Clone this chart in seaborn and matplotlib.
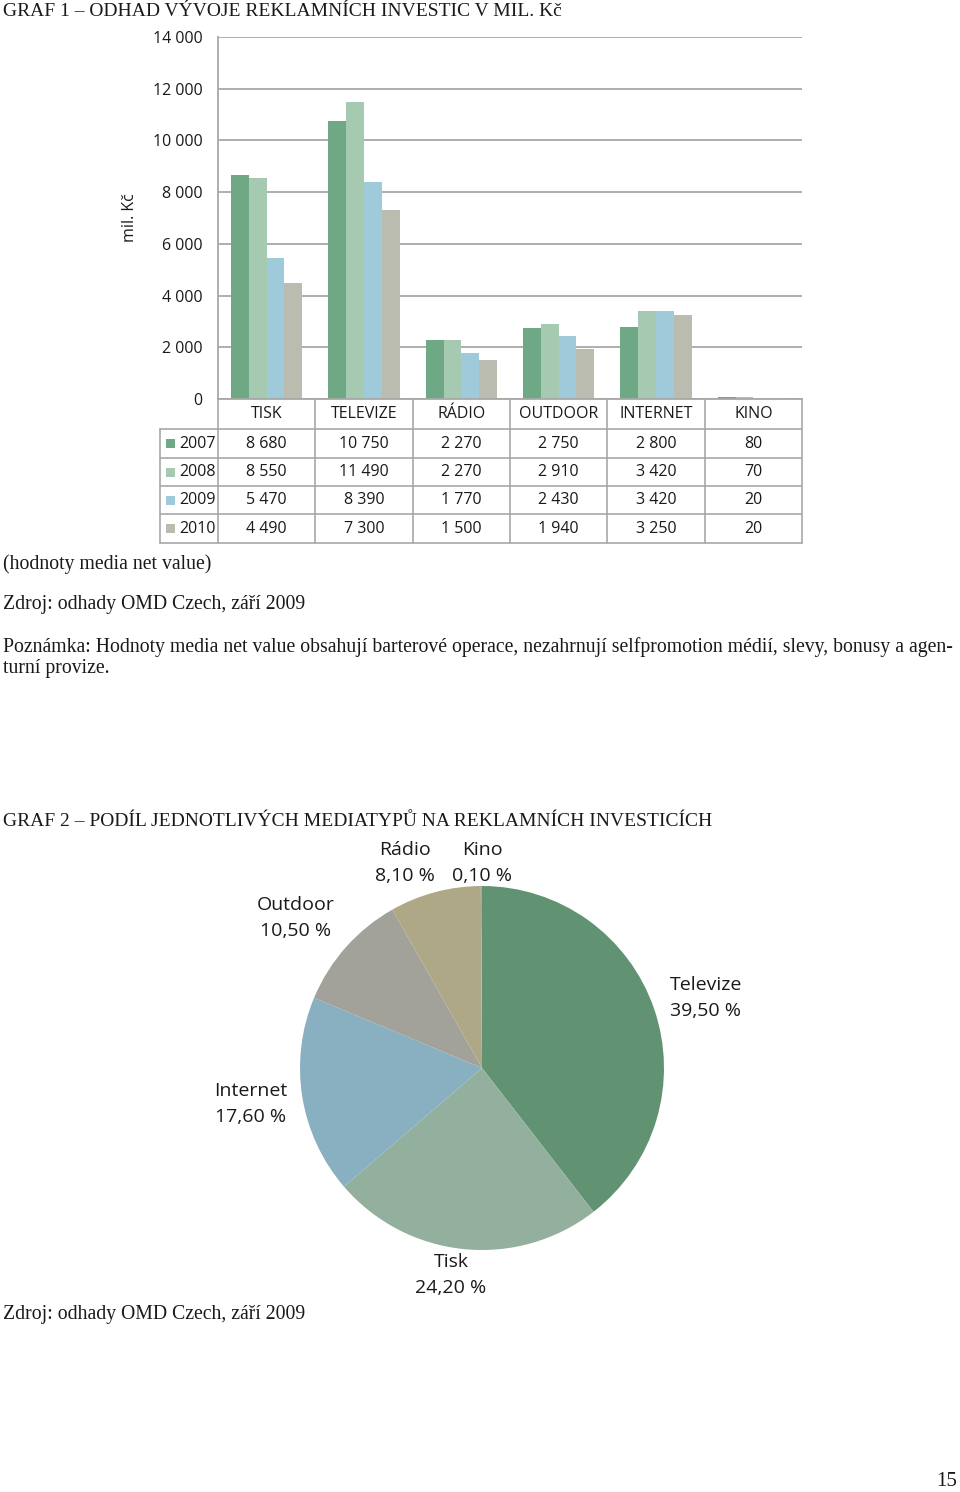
import numpy as np
import pandas as pd
import matplotlib
matplotlib.use("Agg")
import matplotlib.pyplot as plt
import seaborn as sns
from matplotlib.lines import Line2D
from matplotlib.patches import Rectangle

# ---------------- data ----------------
categories = ["TISK", "TELEVIZE", "RÁDIO", "OUTDOOR", "INTERNET", "KINO"]
years = ["2007", "2008", "2009", "2010"]
v2007 = [8680, 10750, 2270, 2750, 2800, 80]
v2008 = [8550, 11490, 2270, 2910, 3420, 70]
v2009 = [5470, 8390, 1770, 2430, 3420, 20]
v2010 = [4490, 7300, 1500, 1940, 3250, 20]
yticks = [0, 2000, 4000, 6000, 8000, 10000, 12000, 14000]
ytick_labels = ["0", "2 000", "4 000", "6 000", "8 000", "10 000", "12 000", "14 000"]

pie_names = ["Televize", "Tisk", "Internet", "Outdoor", "Rádio", "Kino"]
pie_values = [39.5, 24.2, 17.6, 10.5, 8.1, 0.1]
pie_value_labels = ["39,50 %", "24,20 %", "17,60 %", "10,50 %", "8,10 %", "0,10 %"]

bar_colors = ["#6fa884", "#a6c9b1", "#9ecad9", "#b9bcae"]
pie_colors = ["#619373", "#93b09f", "#88b0c0", "#a2a29b", "#aea887", "#9fae8a"]

# ---------------- setup ----------------
sns.set_theme(style="white")
SANS = ["Open Sans", "DejaVu Sans"]
SERIF = ["Liberation Serif", "DejaVu Serif"]
plt.rcParams["font.family"] = SANS

W, H = 960, 1492
fig = plt.figure(figsize=(W / 100, H / 100), dpi=100)
fig.patch.set_facecolor("white")


def fx(x):
    return x / W


def fy(y):
    return 1 - y / H


GRID = "#a8a8a8"
TXT = "#1a1a1a"

# ---------------- bar chart ----------------
ax = fig.add_axes([fx(218), fy(399), (802 - 218) / W, (399 - 37) / H])
rows = []
for yr, vals in zip(years, [v2007, v2008, v2009, v2010]):
    for c, v in zip(categories, vals):
        rows.append({"cat": c, "year": yr, "value": v})
df = pd.DataFrame(rows)
sns.barplot(data=df, x="cat", y="value", hue="year", order=categories,
            hue_order=years, palette=bar_colors, width=0.73, saturation=1,
            ax=ax, legend=False, errorbar=None)
ax.set_xlim(-0.5, 5.5)
ax.set_ylim(0, 14000)
ax.set_yticks(yticks)
ax.set_yticklabels(ytick_labels, fontsize=11.5, color=TXT)
ax.tick_params(axis="y", length=0, pad=11)
ax.set_xticks([])
ax.set_xlabel("")
ax.set_ylabel("")
ax.yaxis.grid(True, color=GRID, lw=1.3)
ax.set_axisbelow(True)
for s in ["top", "right"]:
    ax.spines[s].set_visible(False)
for s in ["left", "bottom"]:
    ax.spines[s].set_color(GRID)
    ax.spines[s].set_linewidth(1.3)
for p in ax.patches:
    p.set_linewidth(0)

fig.text(fx(130), fy(218), "mil. Kč", rotation=90, ha="center", va="center",
         fontsize=11.5, color=TXT)

# ---------------- data table ----------------
col_edges = np.linspace(218, 802, 7)
row_edges = [399, 429, 458, 486, 514, 543]


def hline(x1, x2, y):
    fig.add_artist(Line2D([fx(x1), fx(x2)], [fy(y), fy(y)], color=GRID, lw=1.2,
                          transform=fig.transFigure))


def vline(x, y1, y2):
    fig.add_artist(Line2D([fx(x), fx(x)], [fy(y1), fy(y2)], color=GRID, lw=1.2,
                          transform=fig.transFigure))


for y in row_edges[1:]:
    hline(160, 802, y)
for x in col_edges:
    vline(x, 399, 543)
vline(160, 429, 543)

for j, c in enumerate(categories):
    xc = (col_edges[j] + col_edges[j + 1]) / 2
    fig.text(fx(xc), fy(414), c, ha="center", va="center", fontsize=11.5, color=TXT)

for i, (yr, vals) in enumerate(zip(years, [v2007, v2008, v2009, v2010])):
    yc = (row_edges[i + 1] + row_edges[i + 2]) / 2
    fig.add_artist(Rectangle((fx(166), fy(yc + 4.5)), 9 / W, 9 / H,
                             transform=fig.transFigure, color=bar_colors[i], lw=0))
    fig.text(fx(179), fy(yc), yr, ha="left", va="center", fontsize=11.5, color=TXT)
    for j, v in enumerate(vals):
        xc = (col_edges[j] + col_edges[j + 1]) / 2
        fig.text(fx(xc), fy(yc), f"{v:,}".replace(",", " "), ha="center",
                 va="center", fontsize=11.5, color=TXT)

# ---------------- texts ----------------
fig.text(fx(3), fy(11), "GRAF 1 – ODHAD VÝVOJE REKLAMNÍCH INVESTIC V MIL. Kč",
         ha="left", va="center", fontsize=14, family=SERIF, color=TXT)
fig.text(fx(3), fy(564), "(hodnoty media net value)", ha="left", va="center",
         fontsize=14.2, family=SERIF, color=TXT)
fig.text(fx(3), fy(605), "Zdroj: odhady OMD Czech, září 2009", ha="left",
         va="center", fontsize=14.2, family=SERIF, color=TXT)
fig.text(fx(3), fy(647),
         "Poznámka: Hodnoty media net value obsahují barterové operace, nezahrnují "
         "selfpromotion médií, slevy, bonusy a agen-", ha="left", va="center",
         fontsize=14.2, family=SERIF, color=TXT)
fig.text(fx(3), fy(669), "turní provize.", ha="left", va="center",
         fontsize=14.2, family=SERIF, color=TXT)
fig.text(fx(3), fy(821),
         "GRAF 2 – PODÍL JEDNOTLIVÝCH MEDIATYPŮ NA REKLAMNÍCH INVESTICÍCH",
         ha="left", va="center", fontsize=14, family=SERIF, color=TXT)
fig.text(fx(3), fy(1314), "Zdroj: odhady OMD Czech, září 2009", ha="left",
         va="center", fontsize=14.2, family=SERIF, color=TXT)
fig.text(fx(947), fy(1481), "15", ha="center", va="center", fontsize=15,
         family=SERIF, color=TXT)

# ---------------- pie chart ----------------
cx, cy, r = 482, 1068, 182
pax = fig.add_axes([fx(cx - r), fy(cy + r), 2 * r / W, 2 * r / H])
pax.pie(pie_values, colors=pie_colors, startangle=90, counterclock=False,
        radius=1, wedgeprops={"linewidth": 0})
pax.set_xlim(-1, 1)
pax.set_ylim(-1, 1)
pax.set_aspect("equal")
pax.axis("off")

label_pos = {
    "Televize": (706, 998),
    "Tisk": (451, 1275),
    "Internet": (251, 1104),
    "Outdoor": (296, 918),
    "Rádio": (405, 863),
    "Kino": (482, 863),
}
for name, val in zip(pie_names, pie_value_labels):
    x, y = label_pos[name]
    fig.text(fx(x), fy(y), f"{name}\n{val}", ha="center", va="center",
             fontsize=14, color=TXT, linespacing=1.55)

fig.savefig("out.png", dpi=100, facecolor="white")
